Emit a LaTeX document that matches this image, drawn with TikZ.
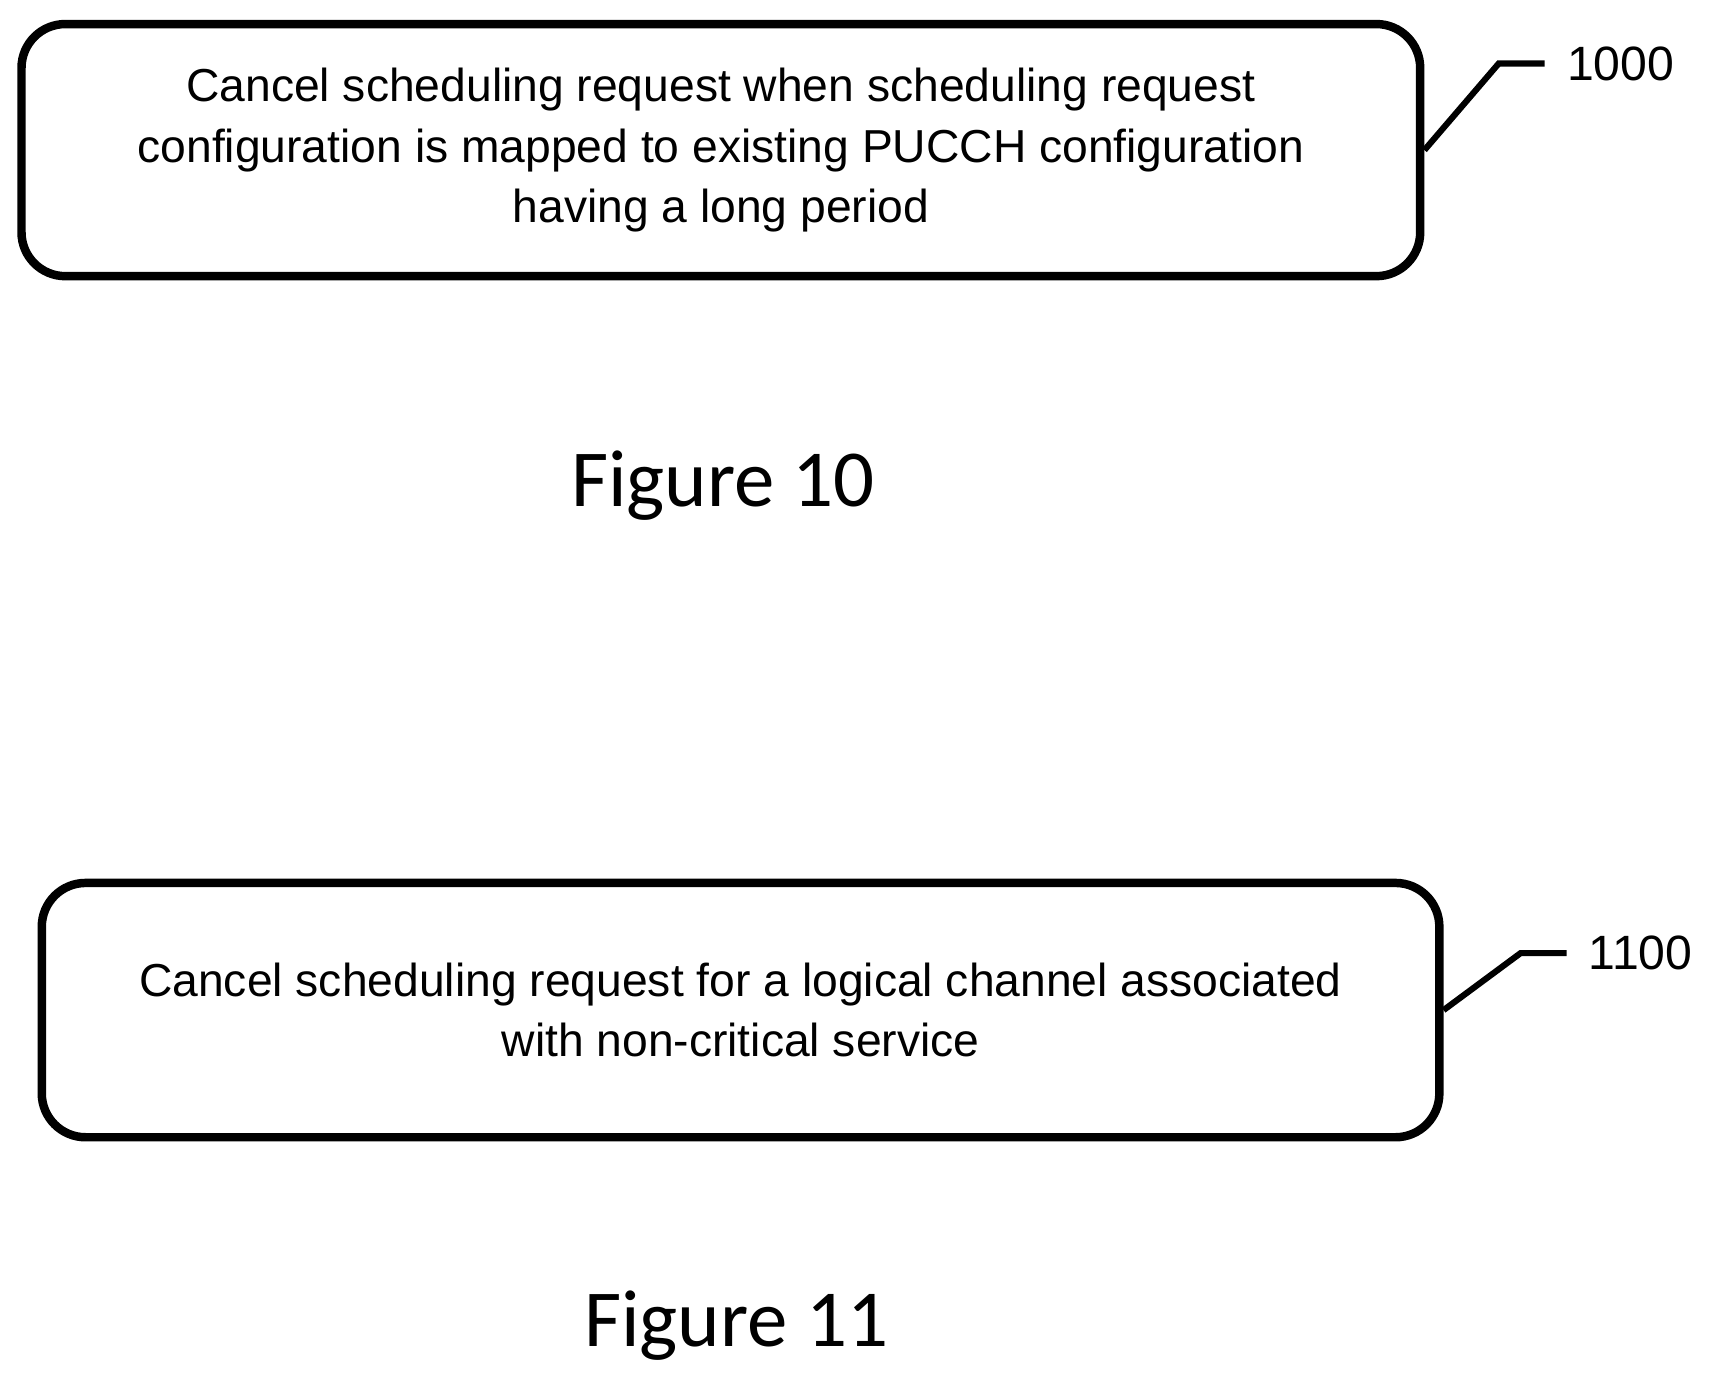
\documentclass[tikz,border=0pt]{standalone}
\usepackage{fontspec}
\setmainfont{Liberation Sans}
\newfontfamily\figfont{Carlito}
\usetikzlibrary{positioning}

\tikzset{
  stepbox/.style={draw, line width=2.2pt, rounded corners=0.4cm, align=center,
    font=\fontsize{12}{15.6}\selectfont},
  leader/.style={line width=1.6pt},
  ref/.style={font=\fontsize{12.5}{15}\selectfont, anchor=west},
  caption/.style={font=\figfont\fontsize{21}{24}\selectfont}
}

\begin{document}
\begin{tikzpicture}[x=0.01cm, y=-0.01cm]
    \useasboundingbox (0,0) rectangle (1560,1253);

    % Figure 10
    \node[stepbox, minimum width=12.76cm, minimum height=2.3cm] (s1000) at (658,137)
      {Cancel scheduling request when scheduling request\\
       configuration is mapped to existing PUCCH configuration\\
       having a long period};
    \coordinate (k1000) at (1368,58);
    \coordinate (e1000) at (1410,58);
    \draw[leader] (s1000.east) -- (k1000) -- (e1000);
    \node[ref] (l1000) at (1418,58) {1000};
    \node[caption] (f10) at (660,443) {Figure 10};

    % Figure 11
    \node[stepbox, minimum width=12.75cm, minimum height=2.32cm] (s1100) at (676,922)
      {Cancel scheduling request for a logical channel associated\\
       with non-critical service};
    \coordinate (k1100) at (1388,870);
    \coordinate (e1100) at (1430,870);
    \draw[leader] (s1100.east) -- (k1100) -- (e1100);
    \node[ref] (l1100) at (1438,870) {1100};
    \node[caption] (f11) at (672,1210) {Figure 11};
\end{tikzpicture}
\end{document}
